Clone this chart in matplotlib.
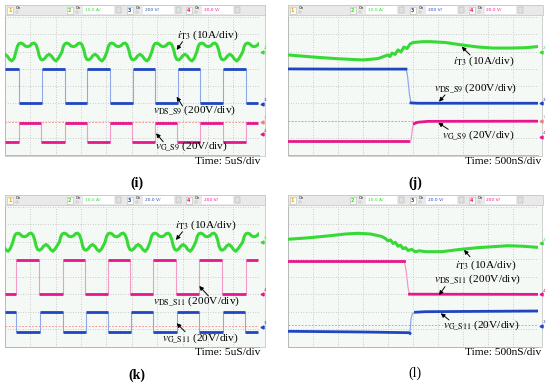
import matplotlib.pyplot as plt
from matplotlib.patches import Rectangle

plt.rcParams["font.family"] = "Liberation Serif"
plt.rcParams["mathtext.fontset"] = "stix"

W, H = 550, 386

# one switching period of i_T3 (div units), offsets from the rising gate edge
cur_off = [-0.13, -0.07, -0.01, 0.07, 0.15, 0.23, 0.33, 0.43, 0.51, 0.59, 0.66,
           0.73, 0.79, 0.85, 0.92, 1.01, 1.09, 1.18, 1.27, 1.36, 1.45, 1.54]
cur_val = [5.97, 6.30, 6.45, 6.49, 6.44, 6.32, 6.28, 6.34, 6.46, 6.49, 6.40,
           6.12, 5.74, 5.55, 5.51, 5.60, 5.76, 5.84, 5.74, 5.55, 5.45, 5.60]

# (i) 5uS/div, S9
i_cycles = [-1.17, 0.57, 2.38, 4.15, 5.92, 7.69, 9.50]
i_ds_edges = [0.57, 1.46, 2.38, 3.25, 4.15, 5.07, 5.92, 6.84, 7.69, 8.61, 9.50]
i_ds_lo, i_ds_hi = 3.0, 5.0
i_g_edges = [0.57, 1.42, 2.38, 3.23, 4.15, 5.00, 5.92, 6.77, 7.69, 8.58, 9.50]
i_g_lo, i_g_hi = 0.77, 1.87
i_ref = 1.93

# (k) 5uS/div, S11
k_cycles = [-1.32, 0.45, 2.28, 4.08, 5.85, 7.65, 9.50]
k_ds_edges = [0.45, 1.36, 2.28, 3.16, 4.08, 4.93, 5.85, 6.73, 7.65, 8.54, 9.50]
k_ds_lo, k_ds_hi = 3.01, 4.95
k_g_edges = [0.45, 1.39, 2.28, 3.20, 4.08, 4.97, 5.85, 6.77, 7.65, 8.58, 9.46]
k_g_lo, k_g_hi = 0.86, 1.97
k_ref = 1.18

# (j) 500nS/div, S9 turn-on
j_cur_x = [0, 1.0, 2.0, 3.0, 3.6, 4.0, 4.08, 4.16, 4.28, 4.4, 4.52, 4.64, 4.76,
           4.88, 5.0, 5.4, 5.7, 6.3, 6.95, 7.6, 8.2, 8.9, 9.5, 9.96]
j_cur_y = [5.80, 5.68, 5.58, 5.51, 5.59, 5.80, 5.71, 5.91, 5.83, 6.09, 5.97, 6.26,
           6.17, 6.43, 6.52, 6.57, 6.57, 6.52, 6.38, 6.26, 6.20, 6.20, 6.22, 6.28]
j_ds_x = [0, 2.0, 4.72, 4.78, 4.86, 4.92, 5.2, 9.96]
j_ds_y = [4.99, 4.98, 4.98, 4.6, 3.5, 3.02, 3.0, 3.0]
j_g_x = [0, 3.0, 4.80, 4.90, 4.95, 4.99, 5.05, 5.2, 5.6, 9.96]
j_g_y = [0.83, 0.83, 0.83, 0.72, 1.2, 1.65, 1.82, 1.9, 1.95, 1.96]
j_ref = 1.95

# (l) 500nS/div, S11 turn-on
l_cur_x = [0, 0.8, 1.6, 2.3, 2.8, 3.3, 3.75, 3.9, 4.0, 4.1, 4.2, 4.3, 4.4, 4.5,
           4.6, 4.7, 4.8, 4.95, 5.1, 5.25, 5.5, 6.15, 6.95, 7.6, 8.15, 8.8, 9.4, 9.96]
l_cur_y = [6.14, 6.22, 6.33, 6.44, 6.48, 6.44, 6.30, 6.18, 6.05, 6.10, 5.90, 5.96,
           5.74, 5.80, 5.60, 5.66, 5.50, 5.56, 5.42, 5.48, 5.43, 5.43, 5.57, 5.66,
           5.71, 5.77, 5.74, 5.68]
l_ds_x = [0, 4.65, 4.72, 4.80, 4.86, 9.96]
l_ds_y = [4.91, 4.91, 4.4, 3.4, 3.0, 2.99]
l_g_x = [0, 3.0, 4.84, 4.88, 4.92, 4.98, 5.1, 5.5, 9.96]
l_g_y = [0.88, 0.84, 0.80, 0.76, 1.6, 1.9, 1.97, 2.0, 2.04]
l_ref = 1.24

GREEN = "#36d936"
BLUE, BLUE_L = "#1f45c0", "#8fa8e8"
PINK, PINK_L = "#e8168c", "#f29ac8"
RED = "#f08080"
BG = "#f5f9f5"

fig = plt.figure(figsize=(W / 100, H / 100), dpi=100)
bg = fig.add_axes([0, 0, 1, 1])
bg.set_xlim(0, W)
bg.set_ylim(H, 0)
bg.axis("off")


def px_axes(x0, y0, x1, y1):
    ax = fig.add_axes([x0 / W, 1 - y1 / H, (x1 - x0) / W, (y1 - y0) / H])
    ax.set_xlim(0, 10)
    ax.set_ylim(0, 8)
    ax.set_facecolor(BG)
    ax.set_xticks(range(11))
    ax.set_yticks(range(9))
    ax.tick_params(length=0, labelbottom=False, labelleft=False)
    ax.grid(True, ls=(0, (1, 2)), color="#bdbdbd", lw=0.6)
    for s in ax.spines.values():
        s.set_color("#b8b8b8")
        s.set_linewidth(0.7)
    ax.spines["right"].set_visible(False)
    ax.spines["top"].set_visible(False)
    return ax


def header(x0, y0, vals):
    bg.add_patch(Rectangle((x0, y0), 260 if x0 < 100 else 255, 10, fc="#e9e9e9",
                           ec="#c4c4c4", lw=0.5))
    cols = ["#f0a000", GREEN, BLUE, PINK]
    pos = [2, 62, 122, 181]
    for n, (p, c) in enumerate(zip(pos, cols)):
        bg.add_patch(Rectangle((x0 + p, y0 + 2), 6, 7, fc="#fdfdf0", ec="#bbbbbb", lw=0.4))
        bg.text(x0 + p + 3, y0 + 5.7, str(n + 1), color=c, fontsize=3.5,
                ha="center", va="center", family="DejaVu Sans", weight="bold")
        bg.text(x0 + p + 9, y0 + 3.5, "On", fontsize=2.6, va="center", family="DejaVu Sans")
        bg.add_patch(Rectangle((x0 + p + 9, y0 + 6), 2.5, 2.5, fc="white", ec="#999999", lw=0.3))
        if n > 0:
            bg.add_patch(Rectangle((x0 + p + 16, y0 + 1.5), 31, 7.5, fc="white", ec="none"))
            bg.text(x0 + p + 18, y0 + 5.3, vals[n - 1], color=c, fontsize=3.2,
                    va="center", family="DejaVu Sans")
            bg.add_patch(Rectangle((x0 + p + 49, y0 + 2), 5, 6.5, fc="#e0e0e0", ec="#aaaaaa", lw=0.3))


def square(ax, edges, lo, hi, start_high, dark, light):
    ax.vlines(edges, lo, hi, color=light, lw=0.8, zorder=2)
    bounds = [0] + list(edges) + [9.96]
    lvl = hi if start_high else lo
    for a, b in zip(bounds[:-1], bounds[1:]):
        ax.plot([a, b], [lvl, lvl], color=dark, lw=2.0, solid_capstyle="butt", zorder=3)
        lvl = lo if lvl == hi else hi


def current(ax, cycles):
    xs, ys = [], []
    for s in cycles:
        for o, v in zip(cur_off, cur_val):
            xs.append(s + o)
            ys.append(v)
    ax.plot(xs, ys, color=GREEN, lw=2.2, zorder=4)


def edge_trace(ax, x, y, a, b, dark, light):
    ax.plot(x[a - 1:b + 1], y[a - 1:b + 1], color=light, lw=0.9, zorder=2)
    ax.plot(x[:a], y[:a], color=dark, lw=2.0, zorder=3)
    ax.plot(x[b:], y[b:], color=dark, lw=2.0, zorder=3)


def markers(ax, items):
    for c, y, d in items:
        ax.plot(10.12, y, marker="<", ms=2.2, color=c, clip_on=False)
        ax.text(10.2, y + 0.15, d, color=c, fontsize=3, clip_on=False, family="DejaVu Sans")


def label(ax, txt, tx, ty, head, tail):
    ax.text(tx, ty, txt, fontsize=8.2, va="center", ha="left", zorder=6)
    ax.annotate("", xy=head, xytext=tail, zorder=6,
                arrowprops=dict(arrowstyle="-|>", color="black", lw=0.7, mutation_scale=6,
                                shrinkA=0, shrinkB=0))


# panel frames
for (x0, y0, w, h) in [(4.7, 4.5, 260.3, 151), (287.5, 4.5, 254.5, 151),
                       (4.7, 194.5, 260.3, 152.5), (287.5, 194.5, 254.5, 152.5)]:
    bg.add_patch(Rectangle((x0, y0), w, h, fc=BG, ec="#c8c8c8", lw=0.6))

header(4.7, 4.5, ["10.0 A/", "200 V/", "20.0 V/"])
header(287.5, 4.5, ["10.0 A/", "200 V/", "20.0 V/"])
header(4.7, 194.5, ["10.0 A/", "20.0 V/", "200 V/"])
header(287.5, 194.5, ["10.0 A/", "20.0 V/", "200 V/"])

lab_i = r"$i_{\rm T3}$ (10A/div)"

# (i)
ax = px_axes(4.7, 17, 258.7, 155)
ax.axhline(i_ref, color=RED, ls=(0, (2, 2)), lw=0.6, zorder=1)
current(ax, i_cycles)
square(ax, i_ds_edges, i_ds_lo, i_ds_hi, True, BLUE, BLUE_L)
square(ax, i_g_edges, i_g_lo, i_g_hi, False, PINK, PINK_L)
markers(ax, [(GREEN, 6.0, "2"), (BLUE, 2.96, "3"), (RED, 1.93, "1"), (PINK, 1.2, "4")])
label(ax, lab_i, 6.79, 6.96, (6.77, 6.09), (7.0, 6.57))
label(ax, r"$v_{\rm DS\_S9}$ (200V/div)", 5.84, 2.61, (6.77, 3.38), (7.0, 2.84))
label(ax, r"$v_{\rm G\_S9}$ (20V/div)", 5.92, 0.48, (5.96, 1.26), (6.24, 0.77))

# (j)
ax = px_axes(288, 17, 538, 155)
ax.axhline(j_ref, color=RED, ls=(0, (2, 2)), lw=0.6, zorder=1)
ax.plot(j_cur_x, j_cur_y, color=GREEN, lw=2.2, zorder=4)
edge_trace(ax, j_ds_x, j_ds_y, 3, 5, BLUE, BLUE_L)
edge_trace(ax, j_g_x, j_g_y, 3, 6, PINK, PINK_L)
markers(ax, [(GREEN, 5.99, "2"), (BLUE, 3.0, "3"), (RED, 1.97, "1"), (PINK, 1.06, "4")])
label(ax, lab_i, 6.6, 5.45, (6.95, 6.28), (7.28, 5.80))
label(ax, r"$v_{\rm DS\_S9}$ (200V/div)", 5.84, 3.87, (6.04, 3.09), (6.28, 3.48))
label(ax, r"$v_{\rm G\_S9}$ (20V/div)", 6.15, 1.16, (6.01, 1.87), (6.41, 1.49))

# (k)
ax = px_axes(4.7, 206.7, 258.7, 346.7)
ax.axhline(k_ref, color=RED, ls=(0, (2, 2)), lw=0.6, zorder=1)
current(ax, k_cycles)
square(ax, k_ds_edges, k_ds_lo, k_ds_hi, False, PINK, PINK_L)
square(ax, k_g_edges, k_g_lo, k_g_hi, True, BLUE, BLUE_L)
markers(ax, [(GREEN, 6.0, "2"), (PINK, 3.01, "4"), (BLUE, 1.14, "3")])
label(ax, lab_i, 6.71, 6.95, (6.74, 6.1), (7.0, 6.57))
label(ax, r"$v_{\rm DS\_S11}$ (200V/div)", 5.84, 2.57, (7.66, 3.47), (8.02, 2.9))
label(ax, r"$v_{\rm G\_S11}$ (20V/div)", 6.18, 0.48, (6.77, 1.34), (7.1, 0.86))

# (l)
ax = px_axes(288, 206.7, 538, 346.7)
ax.axhline(l_ref, color=RED, ls=(0, (2, 2)), lw=0.6, zorder=1)
ax.plot(l_cur_x, l_cur_y, color=GREEN, lw=2.2, zorder=4)
edge_trace(ax, l_ds_x, l_ds_y, 2, 4, PINK, PINK_L)
edge_trace(ax, l_g_x, l_g_y, 4, 6, BLUE, BLUE_L)
markers(ax, [(GREEN, 5.9, "2"), (PINK, 2.99, "4"), (BLUE, 1.18, "3")])
label(ax, lab_i, 6.68, 4.67, (7.04, 5.53), (7.28, 5.14))
label(ax, r"$v_{\rm DS\_S11}$ (200V/div)", 5.84, 3.85, (6.04, 2.95), (6.28, 3.43))
label(ax, r"$v_{\rm G\_S11}$ (20V/div)", 6.21, 1.24, (6.11, 1.91), (6.44, 1.53))

# captions
for x, y, t in [(260, 162, "Time: 5uS/div"), (541.7, 162, "Time: 500nS/div"),
                (260, 352.5, "Time: 5uS/div"), (541.7, 352.5, "Time: 500nS/div")]:
    bg.text(x, y, t, fontsize=8.2, ha="right", va="center")
for x, y, t, wt in [(137, 183, "(i)", "bold"), (415, 183, "(j)", "bold"),
                    (137, 375, "(k)", "bold"), (415, 373, "(l)", "normal")]:
    bg.text(x, y, t, fontsize=10, ha="center", va="center", weight=wt)

fig.savefig("out.png", dpi=100)
